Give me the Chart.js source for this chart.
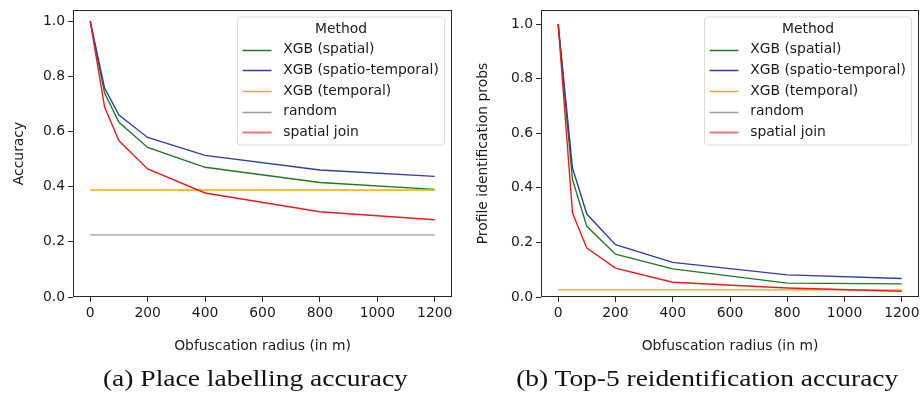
<!DOCTYPE html>
<html>
<head>
<meta charset="utf-8">
<script src="https://cdn.jsdelivr.net/npm/chart.js@4"></script>
<style>
  html, body { margin:0; padding:0; background:#fff; width:922px; height:394px; overflow:hidden; }
  .wrap { position:absolute; top:0; width:461px; height:394px; }
  .cap { position:absolute; top:366.5px; font-family:"Liberation Serif", serif; font-size:23px; line-height:23px;
         color:#111; white-space:nowrap; transform-origin:center top; }
</style>
</head>
<body>
<div class="wrap" style="left:0"><canvas id="c1" width="461" height="394"></canvas></div>
<div class="wrap" style="left:461px"><canvas id="c2" width="461" height="394"></canvas></div>
<span class="cap" id="capA">(a) Place labelling accuracy</span>
<span class="cap" id="capB">(b) Top-5 reidentification accuracy</span>
<script>
// ---------- data ----------
const radius = [0, 50, 100, 200, 400, 800, 1200];
const seriesNames = ["XGB (spatial)", "XGB (spatio-temporal)", "XGB (temporal)", "random", "spatial join"];
const seriesColors = ["#1e7a1e", "#2b40a0", "#ffa500", "#9a9a9a", "#ee1a1a"];

// (a) Place labelling accuracy
const accSpatial       = [1.0, 0.739, 0.633, 0.542, 0.470, 0.415, 0.390];
const accSpatioTemp    = [1.0, 0.757, 0.659, 0.578, 0.513, 0.460, 0.437];
const accTemporal      = [0.388, 0.388, 0.388, 0.388, 0.388, 0.388, 0.388];
const accRandom        = [0.225, 0.225, 0.225, 0.225, 0.225, 0.225, 0.225];
const accSpatialJoin   = [1.0, 0.688, 0.566, 0.464, 0.377, 0.309, 0.280];

// (b) Top-5 reidentification accuracy
const reidSpatial      = [1.0, 0.430, 0.259, 0.157, 0.103, 0.051, 0.048];
const reidSpatioTemp   = [1.0, 0.472, 0.304, 0.192, 0.127, 0.081, 0.068];
const reidTemporal     = [0.026, 0.026, 0.026, 0.026, 0.026, 0.026, 0.026];
const reidRandom       = [0.001, 0.001, 0.001, 0.001, 0.001, 0.001, 0.001];
const reidSpatialJoin  = [1.0, 0.308, 0.179, 0.106, 0.054, 0.033, 0.021];

const xTicks = [0, 200, 400, 600, 800, 1000, 1200];
const yTicks = [0.0, 0.2, 0.4, 0.6, 0.8, 1.0];

// ---------- styles ----------
const FONT = "DejaVu Sans";
const TXT = "#1a1a1a";
Chart.defaults.font.family = FONT;
Chart.defaults.font.size = 13.9;
Chart.defaults.color = TXT;

function makeDatasets(seriesList) {
  const drawOrder = [4, 3, 2, 1, 0]; // red on top like seaborn
  return seriesList.map((vals, i) => ({
    label: seriesNames[i],
    data: radius.map((r, k) => ({x: r, y: vals[k]})),
    borderColor: seriesColors[i],
    backgroundColor: seriesColors[i],
    borderWidth: 1.4,
    pointRadius: 0,
    pointHoverRadius: 0,
    tension: 0,
    fill: false,
    order: drawOrder[i]
  }));
}

const boxPlugin = {
  id: 'axbox',
  afterDatasetsDraw(chart) {
    const {ctx, chartArea: a} = chart;
    ctx.save();
    ctx.strokeStyle = "#262626";
    ctx.lineWidth = 1;
    ctx.strokeRect(Math.round(a.left) + 0.5, Math.round(a.top) + 0.5,
                   Math.round(a.right - a.left) - 1, Math.round(a.bottom - a.top) - 1);
    ctx.restore();
  }
};

const legendPlugin = {
  id: 'mplLegend',
  afterDraw(chart) {
    const {ctx, chartArea: a} = chart;
    const w = 207, h = 128;
    const x0 = a.right - 7.5 - w, y0 = a.top + 7;
    ctx.save();
    const r = 3;
    ctx.beginPath();
    ctx.moveTo(x0 + r, y0);
    ctx.lineTo(x0 + w - r, y0); ctx.quadraticCurveTo(x0 + w, y0, x0 + w, y0 + r);
    ctx.lineTo(x0 + w, y0 + h - r); ctx.quadraticCurveTo(x0 + w, y0 + h, x0 + w - r, y0 + h);
    ctx.lineTo(x0 + r, y0 + h); ctx.quadraticCurveTo(x0, y0 + h, x0, y0 + h - r);
    ctx.lineTo(x0, y0 + r); ctx.quadraticCurveTo(x0, y0, x0 + r, y0);
    ctx.closePath();
    ctx.fillStyle = "rgba(255,255,255,0.8)";
    ctx.fill();
    ctx.strokeStyle = "#dcdcdc";
    ctx.lineWidth = 1;
    ctx.stroke();
    ctx.font = "13.9px '" + FONT + "'";
    ctx.fillStyle = TXT;
    ctx.textBaseline = "middle";
    ctx.textAlign = "center";
    ctx.fillText("Method", x0 + w / 2, y0 + 12.5);
    ctx.textAlign = "left";
    chart.data.datasets.forEach((ds, i) => {
      const yy = y0 + 32.5 + i * 20.7;
      ctx.beginPath();
      ctx.strokeStyle = ds.borderColor;
      ctx.lineWidth = (i === 4) ? 2 : 1.5;
      ctx.globalAlpha = (i === 4) ? 0.6 : 1;
      ctx.moveTo(x0 + 5, Math.round(yy) + 0.5);
      ctx.lineTo(x0 + 34, Math.round(yy) + 0.5);
      ctx.stroke();
      ctx.globalAlpha = 1;
      ctx.fillText(ds.label, x0 + 45.7, yy);
    });
    ctx.restore();
  }
};

function zeroPad(scale) {
  scale.paddingLeft = 0; scale.paddingRight = 0; scale.paddingTop = 0; scale.paddingBottom = 0;
}

function makeChart(id, seriesList, yMax, yTitle, yAxisWidth, rightPad, yTitlePad) {
  return new Chart(document.getElementById(id), {
    type: 'line',
    data: { datasets: makeDatasets(seriesList) },
    plugins: [boxPlugin, legendPlugin],
    options: {
      responsive: false,
      animation: false,
      devicePixelRatio: 1,
      layout: { padding: { left: 0, top: 10, right: rightPad, bottom: 37 } },
      plugins: { legend: { display: false }, tooltip: { enabled: false } },
      scales: {
        x: {
          type: 'linear',
          min: -60, max: 1260,
          afterBuildTicks: s => { s.ticks = xTicks.map(v => ({value: v})); },
          afterFit: s => { s.height = 60; zeroPad(s); },
          ticks: { padding: 3, maxRotation: 0, autoSkip: false, color: TXT, callback: v => String(v) },
          grid: { display: true, drawOnChartArea: false, drawTicks: true, tickLength: 5, color: "#262626", lineWidth: 1 },
          border: { display: false },
          title: { display: true, text: "Obfuscation radius (in m)", color: TXT, padding: { top: 0, bottom: 2.5 }, font: { size: 13.9 } }
        },
        y: {
          type: 'linear',
          min: 0, max: yMax,
          afterBuildTicks: s => { s.ticks = yTicks.map(v => ({value: v})); },
          afterFit: s => { s.width = yAxisWidth; zeroPad(s); },
          ticks: { padding: 3, autoSkip: false, color: TXT, callback: v => Number(v).toFixed(1) },
          grid: { display: true, drawOnChartArea: false, drawTicks: true, tickLength: 5, color: "#262626", lineWidth: 1 },
          border: { display: false },
          title: { display: true, text: yTitle, color: TXT, padding: { top: yTitlePad, bottom: 0 }, font: { size: 13.9 } }
        }
      }
    }
  });
}

makeChart('c1', [accSpatial, accSpatioTemp, accTemporal, accRandom, accSpatialJoin], 1.04, "Accuracy", 73, 9, 10.7);
makeChart('c2', [reidSpatial, reidSpatioTemp, reidTemporal, reidRandom, reidSpatialJoin], 1.052, "Profile identification probs", 80, 3, 13.7);

function placeCaption(id, center, width) {
  const el = document.getElementById(id);
  const w = el.getBoundingClientRect().width;
  el.style.left = (center - w / 2) + "px";
  el.style.transform = "scaleX(" + (width / w) + ")";
}
placeCaption('capA', 255.5, 305);
placeCaption('capB', 707, 382);
</script>
</body>
</html>
